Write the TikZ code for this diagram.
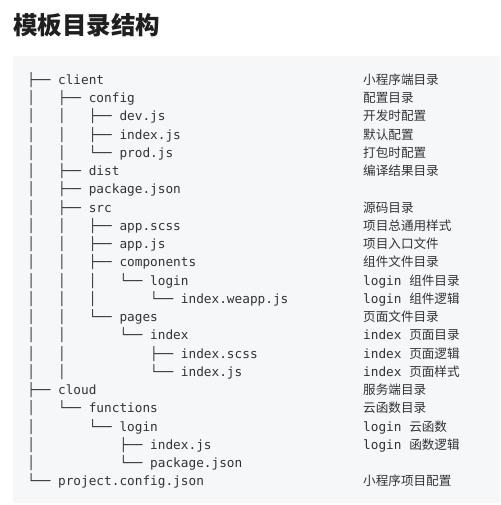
\documentclass[tikz,border=0pt]{standalone}
\usepackage{fontspec}
\newfontfamily\monof{DejaVu Sans Mono}
\newfontfamily\cjk{Noto Sans CJK SC}
\definecolor{boxbg}{HTML}{F6F7F9}
\definecolor{txt}{HTML}{333333}
\definecolor{ttl}{HTML}{1F1F1F}
\tikzset{
  treerow/.style={anchor=base west, inner sep=0pt, font=\monof\fontsize{12.75}{14}\selectfont, text=txt},
  cmt/.style={anchor=base west, inner sep=0pt, font=\cjk\fontsize{12.6}{14}\selectfont, text=txt},
}
\newcommand{\mn}[1]{{\monof\fontsize{12.75}{14}\selectfont #1}}
\begin{document}
\begin{tikzpicture}[x=1pt,y=-1pt]
\useasboundingbox (0,0) rectangle (500,505);
\fill[boxbg, rounded corners=2pt] (13,56) rectangle (500,503);
\node[anchor=base west, inner sep=0pt, font=\cjk\bfseries\fontsize{24.5}{28}\selectfont, text=ttl] (title) at (13,34.5) {模板目录结构};
\def\x{27.2}
\def\cx{363}
\foreach \i/\t/\c in {
0/{├── client}/{小程序端目录},
1/{│\ \ \ ├── config}/{配置目录},
2/{│\ \ \ │\ \ \ ├── dev.js}/{开发时配置},
3/{│\ \ \ │\ \ \ ├── index.js}/{默认配置},
4/{│\ \ \ │\ \ \ └── prod.js}/{打包时配置},
5/{│\ \ \ ├── dist}/{编译结果目录},
6/{│\ \ \ ├── package.json}/{},
7/{│\ \ \ ├── src}/{源码目录},
8/{│\ \ \ │\ \ \ ├── app.scss}/{项目总通用样式},
9/{│\ \ \ │\ \ \ ├── app.js}/{项目入口文件},
10/{│\ \ \ │\ \ \ ├── components}/{组件文件目录},
11/{│\ \ \ │\ \ \ │\ \ \ └── login}/{\mn{login }组件目录},
12/{│\ \ \ │\ \ \ │\ \ \ \ \ \ \ └── index.weapp.js}/{\mn{login }组件逻辑},
13/{│\ \ \ │\ \ \ └── pages}/{页面文件目录},
14/{│\ \ \ │\ \ \ \ \ \ \ └── index}/{\mn{index }页面目录},
15/{│\ \ \ │\ \ \ \ \ \ \ \ \ \ \ ├── index.scss}/{\mn{index }页面逻辑},
16/{│\ \ \ │\ \ \ \ \ \ \ \ \ \ \ └── index.js}/{\mn{index }页面样式},
17/{├── cloud}/{服务端目录},
18/{│\ \ \ └── functions}/{云函数目录},
19/{│\ \ \ \ \ \ \ └── login}/{\mn{login }云函数},
20/{│\ \ \ \ \ \ \ \ \ \ \ ├── index.js}/{\mn{login }函数逻辑},
21/{│\ \ \ \ \ \ \ \ \ \ \ └── package.json}/{},
22/{└── project.config.json}/{小程序项目配置}
}{
  \node[treerow] (r\i) at (\x, 84.3+18.25*\i) {\t};
  \node[cmt] (c\i) at (\cx, 84.3+18.25*\i) {\c};
}
\end{tikzpicture}
\end{document}
